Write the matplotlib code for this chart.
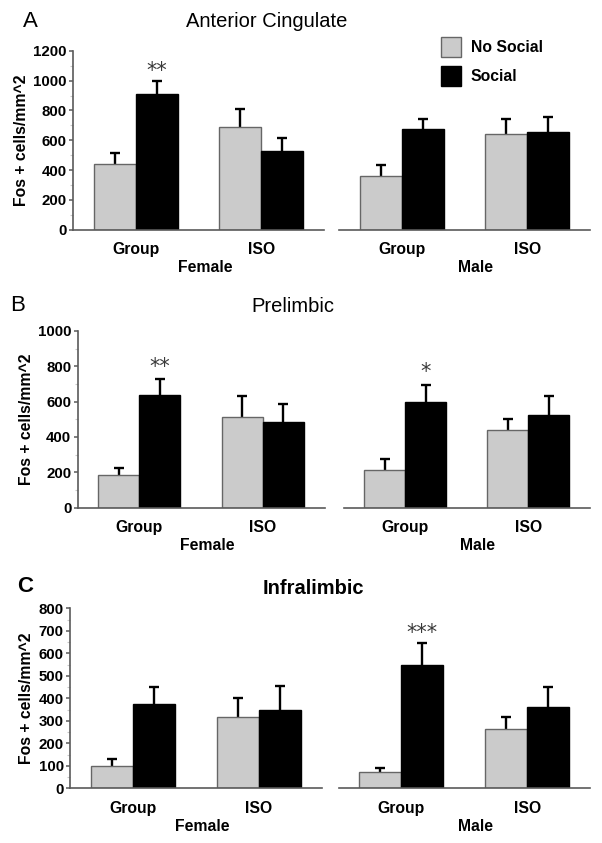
import matplotlib
matplotlib.use("Agg")
import matplotlib.pyplot as plt
from matplotlib.ticker import MultipleLocator, AutoMinorLocator
import numpy as np

plt.rcParams['font.family'] = ['Liberation Sans', 'DejaVu Sans']

W, H = 602, 843

groups = ["Group", "ISO"]
sexes = ["Female", "Male"]
legend_labels = ["No Social", "Social"]

# Panel A: Anterior Cingulate
a_female_nosocial = [437, 689]
a_female_nosocial_err = [79, 121]
a_female_social = [908, 529]
a_female_social_err = [90, 86]
a_male_nosocial = [361, 642]
a_male_nosocial_err = [72, 100]
a_male_social = [675, 657]
a_male_social_err = [67, 99]

# Panel B: Prelimbic
b_female_nosocial = [185, 511]
b_female_nosocial_err = [41, 119]
b_female_social = [636, 487]
b_female_social_err = [90, 98]
b_male_nosocial = [215, 438]
b_male_nosocial_err = [62, 64]
b_male_social = [598, 526]
b_male_social_err = [96, 104]

# Panel C: Infralimbic
c_female_nosocial = [99, 316]
c_female_nosocial_err = [30, 87]
c_female_social = [376, 348]
c_female_social_err = [73, 105]
c_male_nosocial = [73, 265]
c_male_nosocial_err = [19, 52]
c_male_social = [548, 363]
c_male_social_err = [98, 86]

GRAY = "#cbcbcb"
SPINE = "#5a5a5a"

fig = plt.figure(figsize=(W / 100, H / 100), dpi=100)


def axes_px(left, right, top, bottom):
    return fig.add_axes([left / W, 1 - bottom / H, (right - left) / W, (bottom - top) / H])


def upper_errorbar(ax, xs, vals, errs):
    eb = ax.errorbar(xs, vals, yerr=[np.zeros(len(vals)), errs], fmt="none", ecolor="black",
                     elinewidth=1.7, capsize=3.5, capthick=1.7, zorder=1)
    # hide the lower caps (zero-length side)
    for cap in eb[1]:
        if np.allclose(cap.get_ydata(), vals):
            cap.set_visible(False)


def draw_bars(ax, nos, nos_err, soc, soc_err, ymax, ystep, show_y):
    x = np.arange(len(groups))
    w = 1 / 3
    b1 = ax.bar(x - w / 2, nos, w, color=GRAY, edgecolor="#666666", linewidth=1.0, zorder=2)
    b2 = ax.bar(x + w / 2, soc, w, color="black", edgecolor="black", linewidth=1.0, zorder=2)
    upper_errorbar(ax, x - w / 2, nos, nos_err)
    upper_errorbar(ax, x + w / 2, soc, soc_err)
    ax.set_xlim(-0.5, 1.5)
    ax.set_ylim(0, ymax)
    for s in ["top", "right"]:
        ax.spines[s].set_visible(False)
    ax.spines["bottom"].set_color(SPINE)
    ax.spines["bottom"].set_linewidth(1.2)
    ax.set_xticks(x)
    ax.set_xticklabels(groups, fontsize=11.3, fontweight="bold")
    ax.tick_params(axis="x", length=0, pad=9)
    if show_y:
        ax.spines["left"].set_color(SPINE)
        ax.spines["left"].set_linewidth(1.2)
        ax.yaxis.set_major_locator(MultipleLocator(ystep))
        ax.yaxis.set_minor_locator(AutoMinorLocator(2))
        ax.tick_params(axis="y", which="major", length=3, width=1.1, color=SPINE,
                       pad=1.5, labelsize=10.8)
        ax.tick_params(axis="y", which="minor", length=2.5, width=0.8, color="#c8c8c8")
        for lab in ax.get_yticklabels():
            lab.set_fontweight("bold")
        ax.set_ylabel("Fos + cells/mm^2", fontsize=11.3, fontweight="bold", labelpad=3)
    else:
        ax.spines["left"].set_visible(False)
        ax.set_yticks([])
    return b1, b2


def sex_label(ax, text, xf):
    ax.annotate(text, xy=(xf, 0), xycoords="axes fraction", xytext=(0, -38),
                textcoords="offset pixels", ha="center", va="center",
                fontsize=11.3, fontweight="bold")


def stars(ax, xpos, y, text):
    ax.text(xpos, y, text, ha="center", va="center", fontsize=15, color="#3a3a3a",
            family=["DejaVu Sans"])


# ---- Panel A ----
axAf = axes_px(73, 324, 51, 229.5)
axAm = axes_px(339, 590, 51, 229.5)
hA = draw_bars(axAf, a_female_nosocial, a_female_nosocial_err, a_female_social,
               a_female_social_err, 1200, 200, True)
draw_bars(axAm, a_male_nosocial, a_male_nosocial_err, a_male_social,
          a_male_social_err, 1200, 200, False)
sex_label(axAf, sexes[0], 0.525)
sex_label(axAm, sexes[1], 0.545)
stars(axAf, 1 / 6, 1065, "**")
fig.text(266.5 / W, 1 - 21.7 / H, "Anterior Cingulate", ha="center", va="center", fontsize=14.5)
fig.text(30 / W, 1 - 21.5 / H, "A", ha="center", va="center", fontsize=16)
leg = axAm.legend(hA, legend_labels, loc="upper left",
                  bbox_to_anchor=(441 / W, 1 - 37 / H), bbox_transform=fig.transFigure,
                  frameon=False, borderpad=0, borderaxespad=0,
                  handlelength=1.3, handleheight=1.55, handletextpad=0.6,
                  labelspacing=0.62, prop=dict(size=11.3, weight="bold"))

# ---- Panel B ----
axBf = axes_px(77.5, 324.5, 331, 507.5)
axBm = axes_px(343.5, 590, 331, 507.5)
draw_bars(axBf, b_female_nosocial, b_female_nosocial_err, b_female_social,
          b_female_social_err, 1000, 200, True)
draw_bars(axBm, b_male_nosocial, b_male_nosocial_err, b_male_social,
          b_male_social_err, 1000, 200, False)
sex_label(axBf, sexes[0], 0.525)
sex_label(axBm, sexes[1], 0.545)
stars(axBf, 1 / 6, 795, "**")
stars(axBm, 1 / 6, 767, "*")
fig.text(293 / W, 1 - 306.7 / H, "Prelimbic", ha="center", va="center", fontsize=14.5)
fig.text(18 / W, 1 - 305.5 / H, "B", ha="center", va="center", fontsize=16)

# ---- Panel C ----
axCf = axes_px(70, 322, 608.3, 788.3)
axCm = axes_px(338.5, 590, 608.3, 788.3)
draw_bars(axCf, c_female_nosocial, c_female_nosocial_err, c_female_social,
          c_female_social_err, 800, 100, True)
draw_bars(axCm, c_male_nosocial, c_male_nosocial_err, c_male_social,
          c_male_social_err, 800, 100, False)
sex_label(axCf, sexes[0], 0.525)
sex_label(axCm, sexes[1], 0.543)
stars(axCm, 1 / 6, 690, "***")
fig.text(313.5 / W, 1 - 588.3 / H, "Infralimbic", ha="center", va="center",
         fontsize=14.5, fontweight="bold")
fig.text(25 / W, 1 - 586.7 / H, "C", ha="center", va="center", fontsize=16, fontweight="bold")

fig.savefig("out.png", dpi=100)
